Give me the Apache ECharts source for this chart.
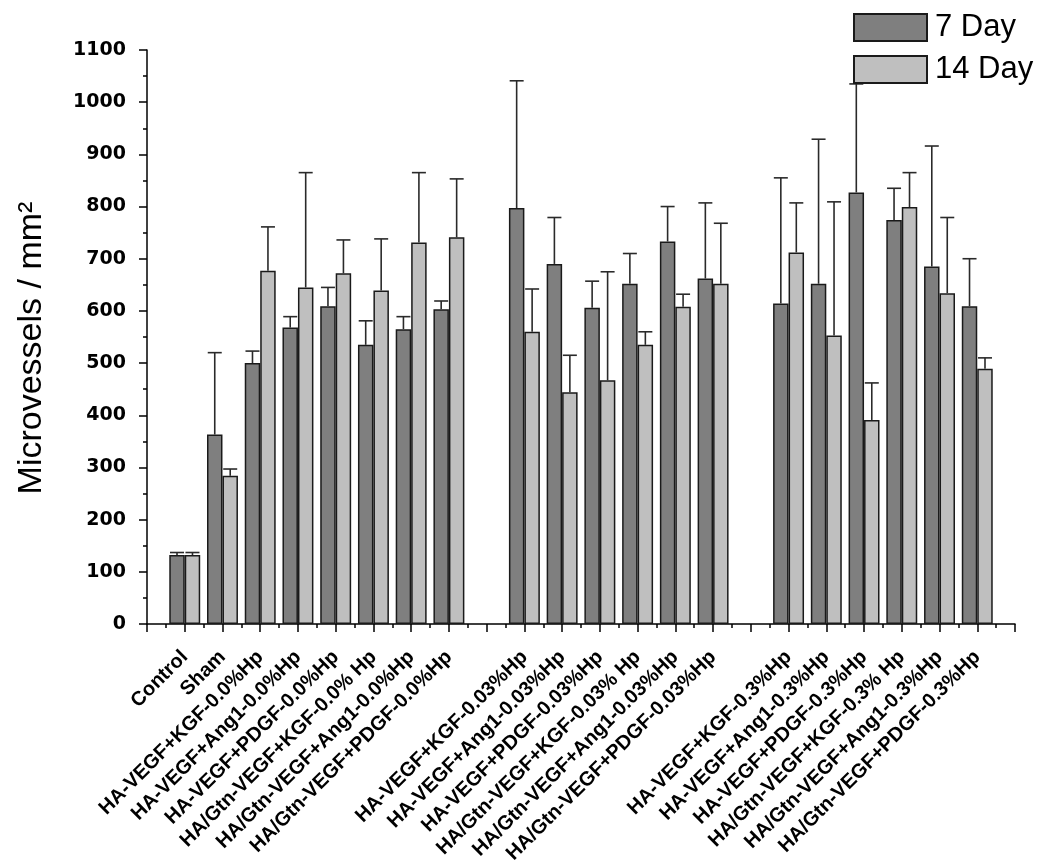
<!DOCTYPE html>
<html>
<head>
<meta charset="utf-8">
<script src="https://cdn.jsdelivr.net/npm/echarts@6/dist/echarts.min.js"></script>
<style>html,body{margin:0;padding:0;background:#fff}#c{width:1050px;height:868px}</style>
</head>
<body>
<div id="c"></div>
<script>
// Category slots: empty strings are spacer slots (axis ends and gaps between dose groups)
const categories = ['',
  'Control', 'Sham',
  'HA-VEGF+KGF-0.0%Hp', 'HA-VEGF+Ang1-0.0%Hp', 'HA-VEGF+PDGF-0.0%Hp',
  'HA/Gtn-VEGF+KGF-0.0% Hp', 'HA/Gtn-VEGF+Ang1-0.0%Hp', 'HA/Gtn-VEGF+PDGF-0.0%Hp',
  '',
  'HA-VEGF+KGF-0.03%Hp', 'HA-VEGF+Ang1-0.03%Hp', 'HA-VEGF+PDGF-0.03%Hp',
  'HA/Gtn-VEGF+KGF-0.03% Hp', 'HA/Gtn-VEGF+Ang1-0.03%Hp', 'HA/Gtn-VEGF+PDGF-0.03%Hp',
  '',
  'HA-VEGF+KGF-0.3%Hp', 'HA-VEGF+Ang1-0.3%Hp', 'HA-VEGF+PDGF-0.3%Hp',
  'HA/Gtn-VEGF+KGF-0.3% Hp', 'HA/Gtn-VEGF+Ang1-0.3%Hp', 'HA/Gtn-VEGF+PDGF-0.3%Hp',
  ''];

const day7   = [null, 132, 363, 500, 568, 609, 535, 565, 603, null, 797, 690, 606, 652, 733, 662, null, 614, 652, 827, 774, 685, 609, null];
const day7Sd = [null,   5, 157,  23,  21,  36,  46,  24,  16, null, 244,  89,  51,  58,  67, 145, null, 241, 277, 208,  61, 231,  91, null];
const day14   = [null, 132, 284, 677, 645, 672, 639, 731, 741, null, 560, 444, 467, 535, 608, 652, null, 712, 553, 391, 799, 634, 489, null];
const day14Sd = [null,   5,  13,  84, 220,  64,  99, 134, 112, null,  82,  71, 208,  25,  24, 116, null,  95, 256,  71,  66, 145,  21, null];

const seriesNames = ['7 Day', '14 Day'];
const yTicks = {min: 0, max: 1100, interval: 100};
const yName = 'Microvessels / mm\u00B2';

const FONT = 'Liberation Sans, Arial, sans-serif';
const GAP = 0.18;

function errData(means, sds) {
  const out = [];
  means.forEach((m, i) => { if (m != null) out.push([i, m, sds[i]]); });
  return out;
}

function errRender(sign) {
  return function (params, api) {
    const idx = api.value(0), mean = api.value(1), sd = api.value(2);
    const band = api.size([1, 0])[0];
    const off = sign * band * (1 - GAP) / 4;
    const b = api.coord([idx, mean]);
    const t = api.coord([idx, mean + sd]);
    const x = b[0] + off;
    const st = {stroke: '#2a2a2a', lineWidth: 1.6};
    return {type: 'group', children: [
      {type: 'line', shape: {x1: x, y1: b[1], x2: x, y2: t[1]}, style: st},
      {type: 'line', shape: {x1: x - 7, y1: t[1], x2: x + 7, y2: t[1]}, style: st}
    ]};
  };
}

const chart = echarts.init(document.getElementById('c'), null, {renderer: 'canvas'});
chart.setOption({
  backgroundColor: '#fff',
  animation: false,
  grid: {left: 147, right: 35, top: 50, bottom: 244, containLabel: false},
  legend: {
    data: seriesNames, orient: 'vertical', left: 848, top: 7,
    itemWidth: 73, itemHeight: 27, itemGap: 11, icon: 'rect',
    textStyle: {fontFamily: FONT, fontSize: 31, color: '#000', padding: [0, 0, 0, 3]}
  },
  xAxis: [{
    type: 'category', data: categories, boundaryGap: false,
    axisLine: {onZero: false, lineStyle: {color: '#000', width: 1.5}},
    axisTick: {show: false},
    axisLabel: {rotate: 45, interval: 0, margin: 30, fontFamily: FONT, fontWeight: 'bold', fontSize: 20, color: '#000'},
    splitLine: {show: false}
  }, {
    type: 'value', min: -1, max: categories.length - 2, interval: 1, position: 'bottom',
    axisLine: {show: false, onZero: false},
    axisTick: {show: true, length: 8, lineStyle: {color: '#000', width: 1.5}},
    minorTick: {show: true, splitNumber: 2, length: 4, lineStyle: {color: '#000', width: 1.5}},
    axisLabel: {show: false}, splitLine: {show: false}
  }],
  yAxis: {
    type: 'value', min: yTicks.min, max: yTicks.max, interval: yTicks.interval,
    name: yName, nameLocation: 'middle', nameGap: 98,
    nameTextStyle: {fontFamily: FONT, fontSize: 34, color: '#000', padding: [0, 22, 0, 0]},
    axisLine: {show: true, onZero: false, lineStyle: {color: '#000', width: 1.5}},
    axisTick: {show: true, length: 8, lineStyle: {color: '#000', width: 1.5}},
    minorTick: {show: true, splitNumber: 2, length: 4, lineStyle: {color: '#000', width: 1.5}},
    axisLabel: {margin: 21, fontFamily: 'DejaVu Sans, sans-serif', fontWeight: 'bold', fontSize: 19, color: '#000',
      formatter: v => String(v)},
    splitLine: {show: false}
  },
  series: [
    {name: seriesNames[0], type: 'bar', xAxisIndex: 0, data: day7, barGap: '0%', barCategoryGap: (GAP * 100) + '%',
     itemStyle: {color: '#7f7f7f', borderColor: '#1a1a1a', borderWidth: 1.5}, z: 2},
    {name: seriesNames[1], type: 'bar', xAxisIndex: 0, data: day14, barGap: '0%', barCategoryGap: (GAP * 100) + '%',
     itemStyle: {color: '#bfbfbf', borderColor: '#1a1a1a', borderWidth: 1.5}, z: 2},
    {type: 'custom', xAxisIndex: 0, data: errData(day7, day7Sd), renderItem: errRender(-1), z: 3, silent: true},
    {type: 'custom', xAxisIndex: 0, data: errData(day14, day14Sd), renderItem: errRender(1), z: 3, silent: true}
  ]
});
</script>
</body>
</html>
